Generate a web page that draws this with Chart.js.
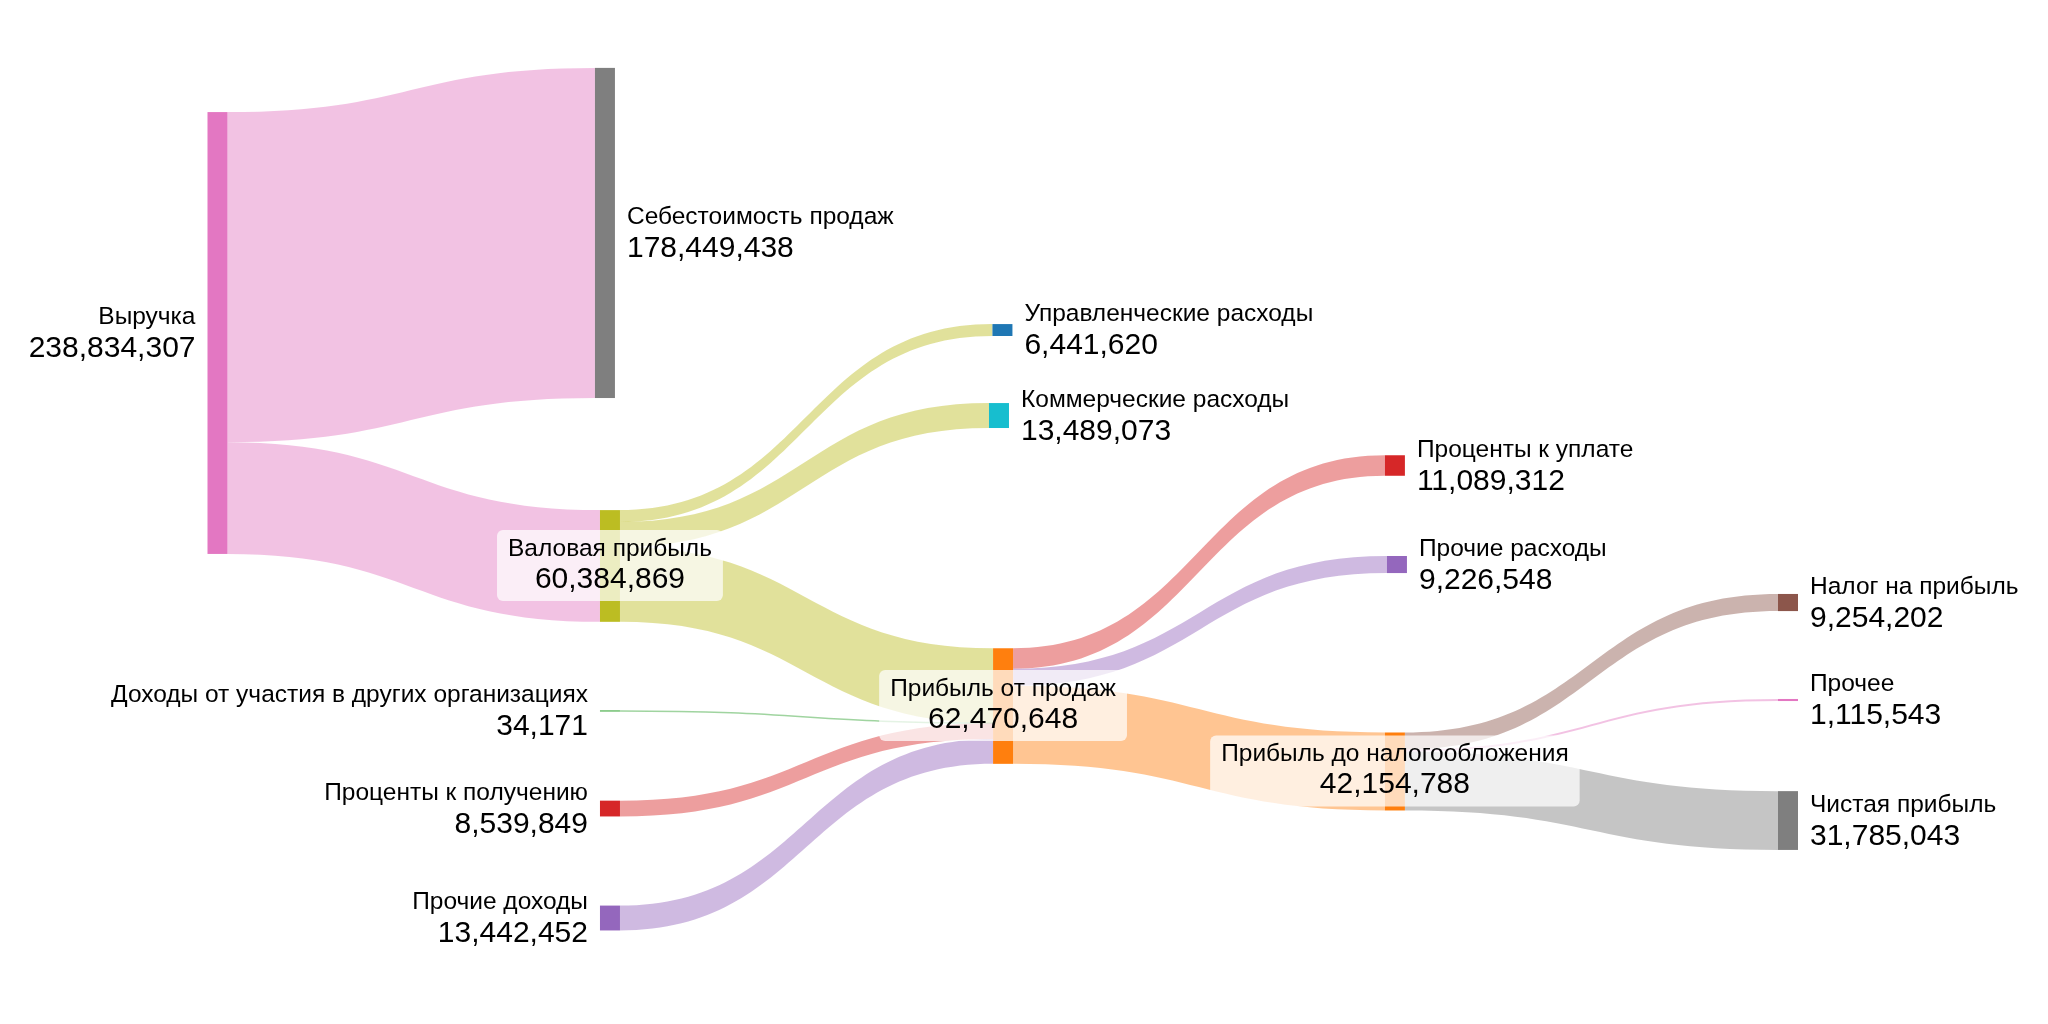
<!DOCTYPE html>
<html>
<head>
<meta charset="utf-8">
<script src="https://cdn.jsdelivr.net/npm/chart.js@4/dist/chart.umd.min.js"></script>
<style>
    html, body { margin: 0; padding: 0; background: #fff; }
    #wrap { width: 2048px; height: 1024px; position: relative; }
</style>
</head>
<body>
<div id="wrap"><canvas id="sankey"></canvas></div>
<script>
// ── Nodes ────────────────────────────────────────────────────
const NODE_NAMES = [
    'Выручка',
    'Себестоимость продаж',
    'Валовая прибыль',
    'Управленческие расходы',
    'Коммерческие расходы',
    'Прибыль от продаж',
    'Проценты к уплате',
    'Прочие расходы',
    'Прибыль до налогообложения',
    'Налог на прибыль',
    'Прочее',
    'Чистая прибыль',
    'Доходы от участия в других организациях',
    'Проценты к получению',
    'Прочие доходы'
];

// ── Links (source → target, value) ───────────────────────────
const LINK_SOURCE = [0, 0, 2, 2, 2, 12, 13, 14, 5, 5, 5, 8, 8, 8];
const LINK_TARGET = [1, 2, 3, 4, 5, 5, 5, 5, 6, 7, 8, 9, 10, 11];
const LINK_VALUE  = [
    178449438, 60384869,
    6441620, 13489073, 40454176,
    34171, 8539849, 13442452,
    11089312, 9226548, 42154788,
    9254202, 1115543, 31785043
];

// ── Arrangement (fractions of plot area, like plotly node.x / node.y) ──
const NODE_X = [0, 0.2467, 0.2499, 0.4998, 0.4976, 0.5002, 0.7497, 0.751, 0.7497, 1, 1, 1, 0.2499, 0.2499, 0.2499];
const NODE_Y = [0.3252, 0.2275, 0.5527, 0.3223, 0.4058, 0.6895, 0.4546, 0.5513, 0.7534, 0.5884, 0.6836, 0.8013, 0.6943, 0.7896, 0.8965];
const LABEL_SIDE = ['left', 'right', 'center', 'right', 'right', 'center', 'right', 'right', 'center', 'right', 'right', 'right', 'left', 'left', 'left'];

// ── Colors ───────────────────────────────────────────────────
const NODE_COLORS = [
    '#e377c2', '#7f7f7f', '#bcbd22', '#1f77b4', '#17becf', '#ff7f0e', '#d62728',
    '#9467bd', '#ff7f0e', '#8c564b', '#e377c2', '#7f7f7f', '#2ca02c', '#d62728', '#9467bd'
];
const LINK_COLORS = [
    'rgba(227,119,194,0.45)', 'rgba(227,119,194,0.45)',
    'rgba(188,189,34,0.45)', 'rgba(188,189,34,0.45)', 'rgba(188,189,34,0.45)',
    'rgba(44,160,44,0.45)', 'rgba(214,39,40,0.45)', 'rgba(148,103,189,0.45)',
    'rgba(214,39,40,0.45)', 'rgba(148,103,189,0.45)', 'rgba(255,127,14,0.45)',
    'rgba(140,86,75,0.45)', 'rgba(227,119,194,0.45)', 'rgba(127,127,127,0.45)'
];

const VALUE_SPAN = 553.5e6;   // flow amount covered by full plot height
const NODE_W     = 20;
const FONT       = '"Liberation Sans", Arial, sans-serif';
const NAME_FONT  = '24.5px ' + FONT;
const VALUE_FONT = '30px ' + FONT;

// ── Node totals ──────────────────────────────────────────────
function nodeTotals() {
    const inSum  = NODE_NAMES.map(() => 0);
    const outSum = NODE_NAMES.map(() => 0);
    LINK_VALUE.forEach(function (v, i) {
        outSum[LINK_SOURCE[i]] += v;
        inSum[LINK_TARGET[i]]  += v;
    });
    return NODE_NAMES.map((_, i) => Math.max(inSum[i], outSum[i]));
}

// ── Sankey drawing plugin ────────────────────────────────────
const sankeyPlugin = {
    id: 'sankey',
    afterDraw(chart) {
        const ctx = chart.ctx;
        const xs  = chart.scales.x;
        const ys  = chart.scales.y;
        const totals = nodeTotals();

        // node rectangles
        const nodes = NODE_NAMES.map(function (name, i) {
            const top = NODE_Y[i] - totals[i] / VALUE_SPAN / 2;
            const y0  = ys.getPixelForValue(top);
            const y1  = ys.getPixelForValue(top + totals[i] / VALUE_SPAN);
            const cx  = xs.getPixelForValue(NODE_X[i]);
            return { x0: cx - NODE_W / 2, x1: cx + NODE_W / 2, top: top, y0: y0, y1: y1, cx: cx, cy: (y0 + y1) / 2 };
        });

        // links
        const outOff = NODE_NAMES.map(() => 0);
        const inOff  = NODE_NAMES.map(() => 0);
        LINK_VALUE.forEach(function (v, i) {
            const s = LINK_SOURCE[i], t = LINK_TARGET[i];
            const sTop = ys.getPixelForValue(nodes[s].top + outOff[s] / VALUE_SPAN);
            const sBot = ys.getPixelForValue(nodes[s].top + (outOff[s] + v) / VALUE_SPAN);
            const tTop = ys.getPixelForValue(nodes[t].top + inOff[t] / VALUE_SPAN);
            const tBot = ys.getPixelForValue(nodes[t].top + (inOff[t] + v) / VALUE_SPAN);
            outOff[s] += v;
            inOff[t]  += v;

            const xa = nodes[s].x1, xb = nodes[t].x0, xm = (xa + xb) / 2;
            ctx.save();
            if (sBot - sTop < 1.2) {
                const a = (sTop + sBot) / 2, b = (tTop + tBot) / 2;
                ctx.strokeStyle = LINK_COLORS[i];
                ctx.lineWidth = 1.5;
                ctx.beginPath();
                ctx.moveTo(xa, a);
                ctx.bezierCurveTo(xm, a, xm, b, xb, b);
                ctx.stroke();
            } else {
                ctx.fillStyle = LINK_COLORS[i];
                ctx.beginPath();
                ctx.moveTo(xa, sTop);
                ctx.bezierCurveTo(xm, sTop, xm, tTop, xb, tTop);
                ctx.lineTo(xb, tBot);
                ctx.bezierCurveTo(xm, tBot, xm, sBot, xa, sBot);
                ctx.closePath();
                ctx.fill();
            }
            ctx.restore();
        });

        // nodes
        nodes.forEach(function (n, i) {
            ctx.fillStyle = NODE_COLORS[i];
            const h = Math.max(n.y1 - n.y0, 1);
            ctx.fillRect(n.x0, n.cy - h / 2, NODE_W, h);
        });

        // labels
        nodes.forEach(function (n, i) {
            const name  = NODE_NAMES[i];
            const value = totals[i].toLocaleString('en-US');
            const side  = LABEL_SIDE[i];
            ctx.save();
            ctx.fillStyle = '#000';
            ctx.textBaseline = 'alphabetic';
            if (side === 'center') {
                ctx.font = NAME_FONT;
                const w1 = ctx.measureText(name).width;
                ctx.font = VALUE_FONT;
                const w2 = ctx.measureText(value).width;
                const bw = Math.max(w1, w2) + 22;
                ctx.fillStyle = 'rgba(255,255,255,0.72)';
                ctx.beginPath();
                if (ctx.roundRect) ctx.roundRect(n.cx - bw / 2, n.cy - 36, bw, 71, 6);
                else ctx.rect(n.cx - bw / 2, n.cy - 36, bw, 71);
                ctx.fill();
                ctx.fillStyle = '#000';
                ctx.textAlign = 'center';
                ctx.font = NAME_FONT;
                ctx.fillText(name, n.cx, n.cy - 10);
                ctx.font = VALUE_FONT;
                ctx.fillText(value, n.cx, n.cy + 22);
            } else {
                const tx = side === 'left' ? n.x0 - 12 : n.x1 + 12;
                ctx.textAlign = side === 'left' ? 'right' : 'left';
                ctx.font = NAME_FONT;
                ctx.fillText(name, tx, n.cy - 9);
                ctx.font = VALUE_FONT;
                ctx.fillText(value, tx, n.cy + 24);
            }
            ctx.restore();
        });
    }
};

// ── Chart ────────────────────────────────────────────────────
new Chart(document.getElementById('sankey'), {
    type: 'scatter',
    data: { datasets: [{ data: [], pointRadius: 0 }] },
    options: {
        responsive: true,
        maintainAspectRatio: false,
        devicePixelRatio: 1,
        animation: false,
        events: [],
        layout: { padding: { left: 217.5, right: 260, top: 0, bottom: 0 } },
        plugins: { legend: { display: false }, tooltip: { enabled: false } },
        scales: {
            x: { type: 'linear', min: 0, max: 1, display: false },
            y: { type: 'linear', min: 0, max: 1, reverse: true, display: false }
        }
    },
    plugins: [sankeyPlugin]
});
</script>
</body>
</html>
